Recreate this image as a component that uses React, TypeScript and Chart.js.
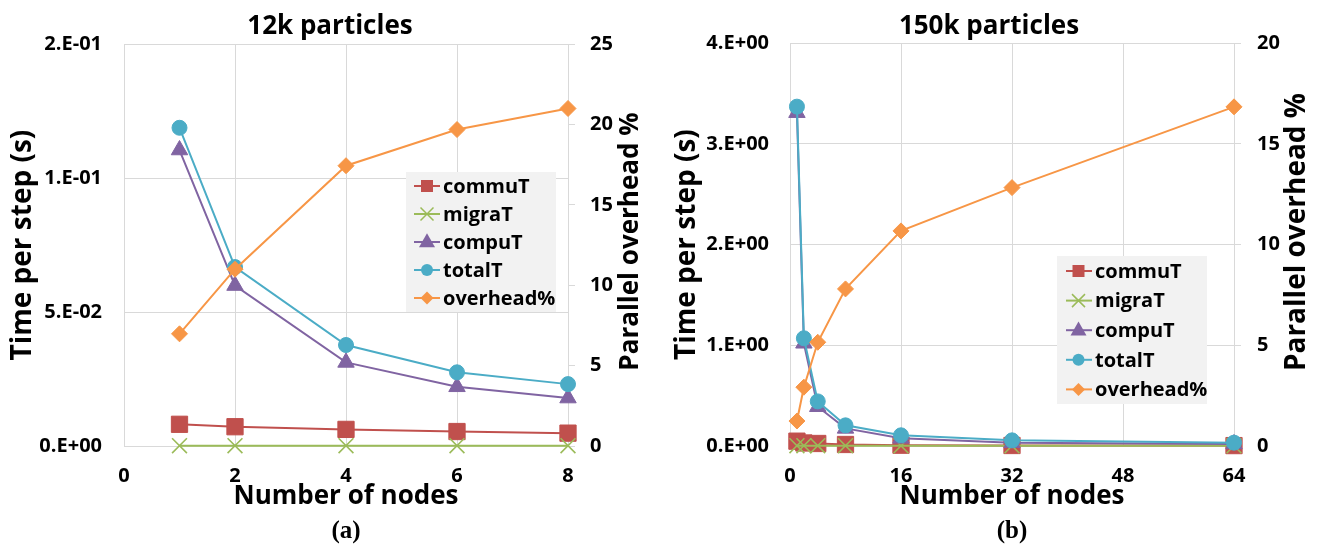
import React, { useEffect, useRef } from "react";
import { Chart, registerables } from "chart.js";

Chart.register(...registerables);

// ---------- data ----------
const seriesNames = ["commuT", "migraT", "compuT", "totalT", "overhead%"];

// (a) 12k particles
const nodes12k = [1, 2, 4, 6, 8];
const commu12k = [0.0081, 0.0072, 0.0062, 0.0054, 0.0048];
const migra12k = [0.0001, 0.0001, 0.0001, 0.0001, 0.0001];
const compu12k = [0.1105, 0.0599, 0.0312, 0.0221, 0.0179];
const total12k = [0.1188, 0.0668, 0.0377, 0.0275, 0.0231];
const overhead12k = [6.98, 11.0, 17.44, 19.69, 21.0];
const timeTickLabels12k = ["0.E+00", "5.E-02", "1.E-01", "2.E-01"];

// (b) 150k particles
const nodes150k = [1, 2, 4, 8, 16, 32, 64];
const commu150k = [0.048, 0.03, 0.025, 0.015, 0.008, 0.005, 0.004];
const migra150k = [0.003, 0.003, 0.003, 0.003, 0.002, 0.002, 0.002];
const compu150k = [3.31, 1.02, 0.39, 0.175, 0.076, 0.032, 0.02];
const total150k = [3.37, 1.07, 0.443, 0.205, 0.106, 0.056, 0.033];
const overhead150k = [1.24, 2.92, 5.15, 7.8, 10.68, 12.83, 16.84];
const timeTickLabels150k = ["0.E+00", "1.E+00", "2.E+00", "3.E+00", "4.E+00"];

// ---------- styling ----------
const FONT = '"Open Sans", "Noto Sans", sans-serif';
const SERIF = '"Liberation Serif", "DejaVu Serif", serif';
const GRID = "#D9D9D9";
const COLORS = ["#C0504D", "#9BBB59", "#8064A2", "#4BACC6", "#F79646"];
const STYLES = ["rect", "crossRot", "triangle", "circle", "rectRot"];
const RADII = [11.5, 10.5, 9.5, 7.5, 8];

type PanelCfg = {
  title: string;
  label: string;
  nodes: number[];
  series: number[][];
  timeLabels: string[];
  xMax: number;
  xStep: number;
  yMax: number;
  yStep: number;
  y1Max: number;
  width: number;
  yWidth: number;
  y1Width: number;
  topPadBottom: number;
  yTitlePad: number;
  yTickPad: number;
  y1TickPad: number;
  rightTitleX: number;
  rightTitleY: number;
  rightTitleSize: number;
  legend: { x: number; y: number; w: number; h: number; row0: number; dy: number; l1: number; l2: number; mx: number; tx: number };
};

const panelA: PanelCfg = {
  title: "12k particles",
  label: "(a)",
  nodes: nodes12k,
  series: [commu12k, migra12k, compu12k, total12k, overhead12k],
  timeLabels: timeTickLabels12k,
  xMax: 8,
  xStep: 2,
  yMax: 0.15,
  yStep: 0.05,
  y1Max: 25,
  width: 660,
  yWidth: 124,
  y1Width: 92,
  topPadBottom: 2,
  yTitlePad: 6,
  yTickPad: 22,
  y1TickPad: 15,
  rightTitleX: 631,
  rightTitleY: 241.5,
  rightTitleSize: 26,
  legend: { x: 406, y: 172, w: 150, h: 140, row0: 186, dy: 28, l1: 414, l2: 440, mx: 427, tx: 443 },
};

const panelB: PanelCfg = {
  title: "150k particles",
  label: "(b)",
  nodes: nodes150k,
  series: [commu150k, migra150k, compu150k, total150k, overhead150k],
  timeLabels: timeTickLabels150k,
  xMax: 64,
  xStep: 16,
  yMax: 4,
  yStep: 1,
  y1Max: 20,
  width: 658,
  yWidth: 130,
  y1Width: 84,
  topPadBottom: 1,
  yTitlePad: 10,
  yTickPad: 21,
  y1TickPad: 16,
  rightTitleX: 637,
  rightTitleY: 232,
  rightTitleSize: 28,
  legend: { x: 397, y: 256, w: 150, h: 148, row0: 271, dy: 29.6, l1: 406, l2: 432, mx: 418.5, tx: 435 },
};

function drawMarker(ctx: CanvasRenderingContext2D, style: string, x: number, y: number, s: number, color: string) {
  ctx.save();
  ctx.fillStyle = color;
  ctx.strokeStyle = color;
  ctx.lineWidth = 1.5;
  ctx.beginPath();
  switch (style) {
    case "rect":
      ctx.rect(x - s, y - s, 2 * s, 2 * s);
      ctx.fill();
      break;
    case "triangle":
      ctx.moveTo(x, y - s * 1.1);
      ctx.lineTo(x + s, y + s * 0.65);
      ctx.lineTo(x - s, y + s * 0.65);
      ctx.closePath();
      ctx.fill();
      break;
    case "circle":
      ctx.arc(x, y, s, 0, Math.PI * 2);
      ctx.fill();
      break;
    case "rectRot":
      ctx.moveTo(x - s, y);
      ctx.lineTo(x, y - s);
      ctx.lineTo(x + s, y);
      ctx.lineTo(x, y + s);
      ctx.closePath();
      ctx.fill();
      break;
    case "crossRot":
      ctx.moveTo(x - s, y - s);
      ctx.lineTo(x + s, y + s);
      ctx.moveTo(x + s, y - s);
      ctx.lineTo(x - s, y + s);
      ctx.stroke();
      break;
  }
  ctx.restore();
}

const LEGEND_SIZES = [6, 6.5, 8, 6, 6.5];

function Panel({ cfg, left }: { cfg: PanelCfg; left: number }) {
  const ref = useRef<HTMLCanvasElement | null>(null);

  useEffect(() => {
    if (!ref.current) return;
    const tickFont = { family: FONT, size: 20, weight: "bold" as const };

    const datasets = cfg.series.map((vals, i) => ({
      label: seriesNames[i],
      data: cfg.nodes.map((n, j) => ({ x: n, y: vals[j] })),
      yAxisID: i === 4 ? "y1" : "y",
      borderColor: COLORS[i],
      backgroundColor: COLORS[i],
      pointBackgroundColor: COLORS[i],
      pointBorderColor: COLORS[i],
      pointStyle: STYLES[i] as any,
      pointRadius: RADII[i],
      pointHoverRadius: RADII[i],
      pointBorderWidth: i === 1 ? 1.6 : 1,
      borderWidth: 2,
      tension: 0,
      fill: false,
      clip: false as any,
      order: 5 - i,
    }));

    const overlay = {
      id: "overlay",
      afterDraw(chart: any) {
        const ctx: CanvasRenderingContext2D = chart.ctx;
        // right axis title (reads bottom-to-top)
        ctx.save();
        ctx.translate(cfg.rightTitleX, cfg.rightTitleY);
        ctx.rotate(-Math.PI / 2);
        ctx.fillStyle = "#000";
        ctx.font = `bold ${cfg.rightTitleSize}px ${FONT}`;
        ctx.textAlign = "center";
        ctx.textBaseline = "middle";
        ctx.fillText("Parallel overhead %", 0, 0);
        ctx.restore();

        // legend
        const L = cfg.legend;
        ctx.save();
        ctx.fillStyle = "#F2F2F2";
        ctx.fillRect(L.x, L.y, L.w, L.h);
        seriesNames.forEach((name, i) => {
          const y = L.row0 + i * L.dy;
          ctx.strokeStyle = COLORS[i];
          ctx.lineWidth = 2;
          ctx.beginPath();
          ctx.moveTo(L.l1, y);
          ctx.lineTo(L.l2, y);
          ctx.stroke();
          drawMarker(ctx, STYLES[i], L.mx, y, LEGEND_SIZES[i], COLORS[i]);
          ctx.fillStyle = "#000";
          ctx.font = `bold 20px ${FONT}`;
          ctx.textAlign = "left";
          ctx.textBaseline = "middle";
          ctx.fillText(name, L.tx, y + 1);
        });
        ctx.restore();
      },
    };

    const chart = new Chart(ref.current, {
      type: "line",
      data: { datasets: datasets as any },
      options: {
        animation: false,
        responsive: false,
        events: [],
        layout: { padding: 0 },
        plugins: {
          legend: { display: false },
          tooltip: { enabled: false },
          title: {
            display: true,
            text: cfg.title,
            color: "#000",
            font: { family: FONT, size: 26, weight: "bold" },
            padding: { top: 11, bottom: cfg.topPadBottom },
          },
          subtitle: {
            display: true,
            text: cfg.label,
            position: "bottom",
            fullSize: false,
            color: "#000",
            font: { family: SERIF, size: 25, weight: "bold" },
            padding: { top: 5, bottom: 0 },
          },
        },
        scales: {
          x: {
            type: "linear",
            min: 0,
            max: cfg.xMax,
            ticks: { stepSize: cfg.xStep, color: "#000", font: tickFont, padding: 18, maxRotation: 0, autoSkip: false },
            grid: { color: GRID, drawTicks: false },
            border: { color: GRID },
            title: {
              display: true,
              text: "Number of nodes",
              color: "#000",
              font: { family: FONT, size: 26, weight: "bold" },
              padding: 0,
            },
            afterFit: (s: any) => {
              s.height = 66;
            },
          },
          y: {
            type: "linear",
            position: "left",
            min: 0,
            max: cfg.yMax,
            ticks: {
              stepSize: cfg.yStep,
              color: "#000",
              font: tickFont,
              padding: cfg.yTickPad,
              callback: (_v: any, i: number) => cfg.timeLabels[i],
            },
            grid: { color: GRID, drawTicks: false },
            border: { color: GRID },
            title: {
              display: true,
              text: "Time per step (s)",
              color: "#000",
              font: { family: FONT, size: 28, weight: "bold" },
              padding: { top: cfg.yTitlePad, bottom: 0 },
            },
            afterFit: (s: any) => {
              s.width = cfg.yWidth;
            },
          },
          y1: {
            type: "linear",
            position: "right",
            min: 0,
            max: cfg.y1Max,
            ticks: { stepSize: 5, color: "#000", font: tickFont, padding: cfg.y1TickPad },
            grid: { color: GRID, drawOnChartArea: false, drawTicks: true, tickLength: 7 },
            border: { color: GRID },
            afterFit: (s: any) => {
              s.width = cfg.y1Width;
            },
          },
        },
      } as any,
      plugins: [overlay],
    });
    return () => chart.destroy();
  }, [cfg]);

  return (
    <canvas
      ref={ref}
      width={cfg.width}
      height={547}
      style={{ position: "absolute", left, top: 0, width: cfg.width, height: 547, display: "block" }}
    />
  );
}

export default function App() {
  return (
    <div style={{ position: "absolute", left: 0, top: 0, width: 1318, height: 547, background: "#fff" }}>
      <Panel cfg={panelA} left={0} />
      <Panel cfg={panelB} left={660} />
    </div>
  );
}
